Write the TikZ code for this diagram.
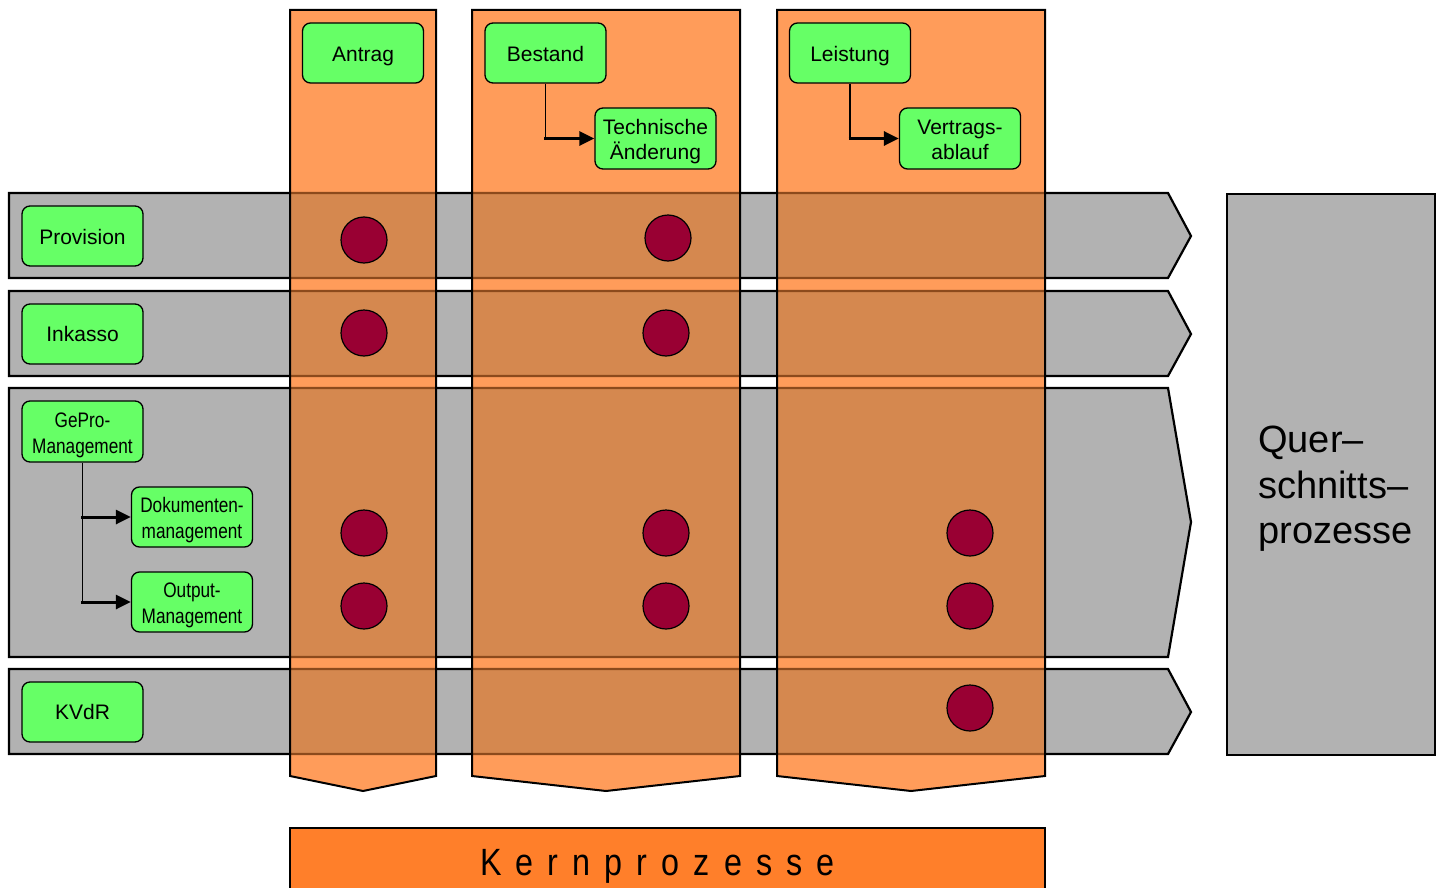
\documentclass[tikz,border=0pt]{standalone}
\usepackage{fontspec}
\setmainfont{Liberation Sans}
\newfontfamily\narrowfont[FakeStretch=0.82]{Liberation Sans}
\newfontfamily\kernfont[FakeStretch=0.85]{Liberation Sans}
\usetikzlibrary{arrows.meta}

\definecolor{lanegray}{HTML}{B2B2B2}
\definecolor{collight}{HTML}{FF9C5A}
\definecolor{coldark}{HTML}{D5884F}
\definecolor{coledge}{HTML}{8C4A1C}
\definecolor{boxgreen}{HTML}{66FF66}
\definecolor{hitred}{HTML}{990033}
\definecolor{kernorange}{HTML}{FF7F2A}

\newcommand{\ks}{\hspace{14.1pt}}

\tikzset{
  lanepath/.style={line width=2.2pt, line join=miter},
  colpath/.style={line width=2pt, line join=miter},
  procbox/.style={draw=black, line width=1.3pt, fill=boxgreen, rounded corners=8pt,
    minimum width=121pt, minimum height=60pt, inner sep=0pt},
  boxtext/.style={align=center, inner sep=0pt, font=\fontsize{21}{25}\selectfont},
  narrowtext/.style={boxtext, font=\narrowfont\fontsize{21}{26}\selectfont},
  hit/.style={circle, draw=black, line width=1.2pt, fill=hitred,
    minimum size=46pt, inner sep=0pt},
  branch/.style={line width=1.3pt},
  feed/.style={line width=3pt, -{Triangle[length=15pt,width=14pt]}}
}

\begin{document}
\begin{tikzpicture}[x=1pt,y=-1pt]
\useasboundingbox (0,0) rectangle (1439,888);

% cross-cutting lanes
\def\lanes{
  (9,193) -- (1168,193) -- (1191,236) -- (1168,278) -- (9,278) -- cycle
  (9,291) -- (1168,291) -- (1191,334) -- (1168,376) -- (9,376) -- cycle
  (9,388) -- (1168,388) -- (1191,522) -- (1168,657) -- (9,657) -- cycle
  (9,669) -- (1168,669) -- (1191,712) -- (1168,754) -- (9,754) -- cycle}
\path[lanepath, fill=lanegray, draw=black] \lanes;

% core process columns
\def\columns{
  (290,10) -- (436,10) -- (436,776) -- (363,791) -- (290,776) -- cycle
  (472,10) -- (740,10) -- (740,776) -- (606,791) -- (472,776) -- cycle
  (777,10) -- (1045,10) -- (1045,776) -- (911,791) -- (777,776) -- cycle}
\path[fill=collight] \columns;
\begin{scope}
  \clip \columns;
  \path[lanepath, fill=coldark, draw=coledge] \lanes;
\end{scope}
\path[colpath, draw=black] \columns;

% bottom bar
\draw[line width=2pt, fill=kernorange] (290,828) rectangle (1045,900);
\node[anchor=base west, inner sep=0pt, font=\kernfont\fontsize{38}{40}\selectfont]
  (kern) at (480,875) {K\ks e\ks r\ks n\ks p\ks r\ks o\ks z\ks e\ks s\ks s\ks e};

% right box
\draw[line width=2pt, fill=lanegray] (1227,194) rectangle (1435,755);
\node[anchor=north west, inner sep=0pt, align=left,
  font=\fontsize{38}{45.6}\selectfont] (quer) at (1258,426)
  {Quer–\\schnitts–\\prozesse};

% process boxes
\node[procbox] (antrag) at (363,53) {};
\node[procbox] (bestand) at (545.5,53) {};
\node[procbox, minimum height=61pt] (tech) at (655.5,138.5) {};
\node[procbox] (leistung) at (850,53) {};
\node[procbox, minimum height=61pt] (vertrag) at (960,138.5) {};
\node[procbox] (provision) at (82.5,236) {};
\node[procbox] (inkasso) at (82.5,334) {};
\node[procbox, minimum height=61pt] (gepro) at (82.5,431.5) {};
\node[procbox] (doku) at (192,517) {};
\node[procbox] (output) at (192,602) {};
\node[procbox] (kvdr) at (82.5,712) {};

% box captions
\node[boxtext] (antrag-t) at ([yshift=-3pt]antrag.center) {Antrag};
\node[boxtext] (bestand-t) at ([yshift=-1pt]bestand.center) {Bestand};
\node[boxtext] (tech-t) at ([yshift=-3pt]tech.center) {Technische\\Änderung};
\node[boxtext] (leistung-t) at ([yshift=-3pt]leistung.center) {Leistung};
\node[boxtext] (vertrag-t) at ([yshift=-1.5pt]vertrag.center) {Vertrags-\\ablauf};
\node[boxtext] (provision-t) at ([yshift=-1pt]provision.center) {Provision};
\node[boxtext] (inkasso-t) at (inkasso.center) {Inkasso};
\node[narrowtext] (gepro-t) at ([yshift=-4pt]gepro.center) {GePro-\\Management};
\node[narrowtext] (doku-t) at ([yshift=-3pt]doku.center) {Dokumenten-\\management};
\node[narrowtext] (output-t) at ([yshift=-3pt]output.center) {Output-\\Management};
\node[boxtext] (kvdr-t) at (kvdr.center) {KVdR};

% sub-process connectors
\draw[branch] (bestand.south) -- (bestand.south |- tech.west);
\draw[feed] ([xshift=-1.5pt]bestand.south |- tech.west) -- (tech.west);
\draw[branch] (leistung.south) -- (leistung.south |- vertrag.west);
\draw[feed] ([xshift=-1.5pt]leistung.south |- vertrag.west) -- (vertrag.west);
\draw[branch] (gepro.south) -- (gepro.south |- output.west);
\draw[feed] ([xshift=-1.5pt]gepro.south |- doku.west) -- (doku.west);
\draw[feed] ([xshift=-1.5pt]gepro.south |- output.west) -- (output.west);

% markers
\node[hit] (h1) at (364,240) {};
\node[hit] (h2) at (668,238) {};
\node[hit] (h3) at (364,333) {};
\node[hit] (h4) at (666,333) {};
\node[hit] (h5) at (364,533) {};
\node[hit] (h6) at (666,533) {};
\node[hit] (h7) at (970,533) {};
\node[hit] (h8) at (364,606) {};
\node[hit] (h9) at (666,606) {};
\node[hit] (h10) at (970,606) {};
\node[hit] (h11) at (970,708) {};
\end{tikzpicture}
\end{document}
